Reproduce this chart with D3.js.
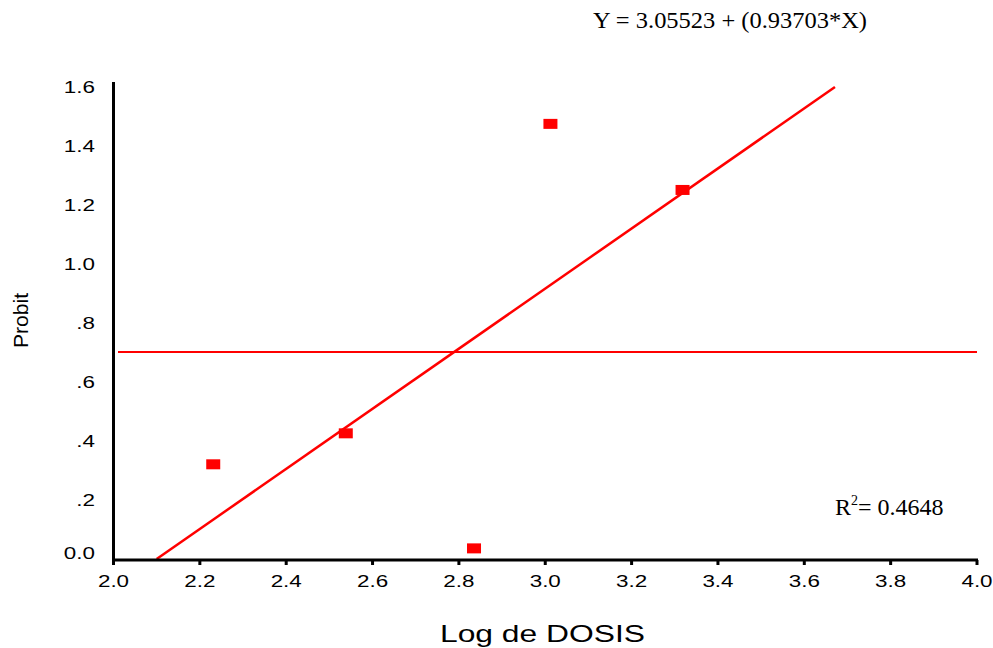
<!DOCTYPE html>
<html><head><meta charset="utf-8">
<script src="https://cdn.jsdelivr.net/npm/d3@7"></script>
<style>body{margin:0;background:#fff}</style>
</head><body>
<script>
const xTicks = [2.0,2.2,2.4,2.6,2.8,3.0,3.2,3.4,3.6,3.8,4.0];
const xTickLabels = ["2.0","2.2","2.4","2.6","2.8","3.0","3.2","3.4","3.6","3.8","4.0"];
const yTicks = [0,0.2,0.4,0.6,0.8,1.0,1.2,1.4,1.6];
const yTickLabels = ["0.0",".2",".4",".6",".8","1.0","1.2","1.4","1.6"];
const pointsX = [2.231,2.538,2.835,3.012,3.318];
const pointsY = [0.321,0.426,0.036,1.475,1.251];
const fitX = [2.1,3.671];
const fitY = [0.0,1.6];
const hLineY = 0.702;
const equation = "Y = 3.05523 + (0.93703*X)";
const r2Value = "= 0.4648";

const W=993,H=648;
const svg=d3.select("body").append("svg").attr("width",W).attr("height",H);
const x=d3.scaleLinear().domain([2,4]).range([113.5,977]);
const y=d3.scaleLinear().domain([0,1.6]).range([559,87]);
const red="#ff0000";
const sans="Liberation Sans, Arial, sans-serif";
const serif="Liberation Serif, Times New Roman, serif";

// horizontal line
svg.append("line").attr("x1",118).attr("x2",x(4)).attr("y1",y(hLineY)).attr("y2",y(hLineY))
  .attr("stroke",red).attr("stroke-width",2);
// regression line
svg.append("line").attr("x1",x(fitX[0])).attr("y1",y(fitY[0])).attr("x2",x(fitX[1])).attr("y2",y(fitY[1]))
  .attr("stroke",red).attr("stroke-width",2.5);
// points
svg.selectAll("rect.pt").data(pointsX.map((v,i)=>[v,pointsY[i]])).enter().append("rect")
  .attr("x",d=>x(d[0])-7).attr("y",d=>y(d[1])-5).attr("width",14).attr("height",10).attr("fill",red);

// axes
svg.append("line").attr("x1",x(2)).attr("x2",x(4)+1).attr("y1",560).attr("y2",560).attr("stroke","#000").attr("stroke-width",3);
svg.append("line").attr("x1",x(2)).attr("x2",x(2)).attr("y1",82).attr("y2",561.5).attr("stroke","#000").attr("stroke-width",3);
// x ticks
svg.selectAll("line.xt").data(xTicks).enter().append("line")
  .attr("x1",d=>x(d)).attr("x2",d=>x(d)).attr("y1",560).attr("y2",565).attr("stroke","#000").attr("stroke-width",3);
svg.selectAll("text.xl").data(xTicks).enter().append("text")
  .attr("transform",d=>`translate(${x(d)},587) scale(1.4,1)`).attr("text-anchor","middle")
  .attr("font-family",sans).attr("font-size",16)
  .text((d,i)=>xTickLabels[i]);
svg.selectAll("text.yl").data(yTicks).enter().append("text")
  .attr("transform",d=>`translate(95,${d===0?y(d)-0.5:y(d)+6}) scale(1.4,1)`).attr("text-anchor","end")
  .attr("font-family",sans).attr("font-size",16)
  .text((d,i)=>yTickLabels[i]);

// axis titles
svg.append("text").attr("x",440).attr("y",642)
  .attr("font-family",sans).attr("font-size",24.5)
  .attr("textLength",205).attr("lengthAdjust","spacingAndGlyphs").text("Log de DOSIS");
svg.append("text").attr("transform","translate(28,348) rotate(-90)")
  .attr("font-family",sans).attr("font-size",21)
  .attr("textLength",55).attr("lengthAdjust","spacingAndGlyphs").text("Probit");

// equation
svg.append("text").attr("x",593).attr("y",28)
  .attr("font-family",serif).attr("font-size",24).attr("textLength",274).attr("lengthAdjust","spacingAndGlyphs").text(equation);
// R2
const r2=svg.append("text").attr("x",835).attr("y",515)
  .attr("font-family",serif).attr("font-size",24);
r2.append("tspan").text("R");
r2.append("tspan").attr("dy",-10).attr("font-size",14).text("2");
r2.append("tspan").attr("dy",10).text(r2Value);
</script>
</body></html>
